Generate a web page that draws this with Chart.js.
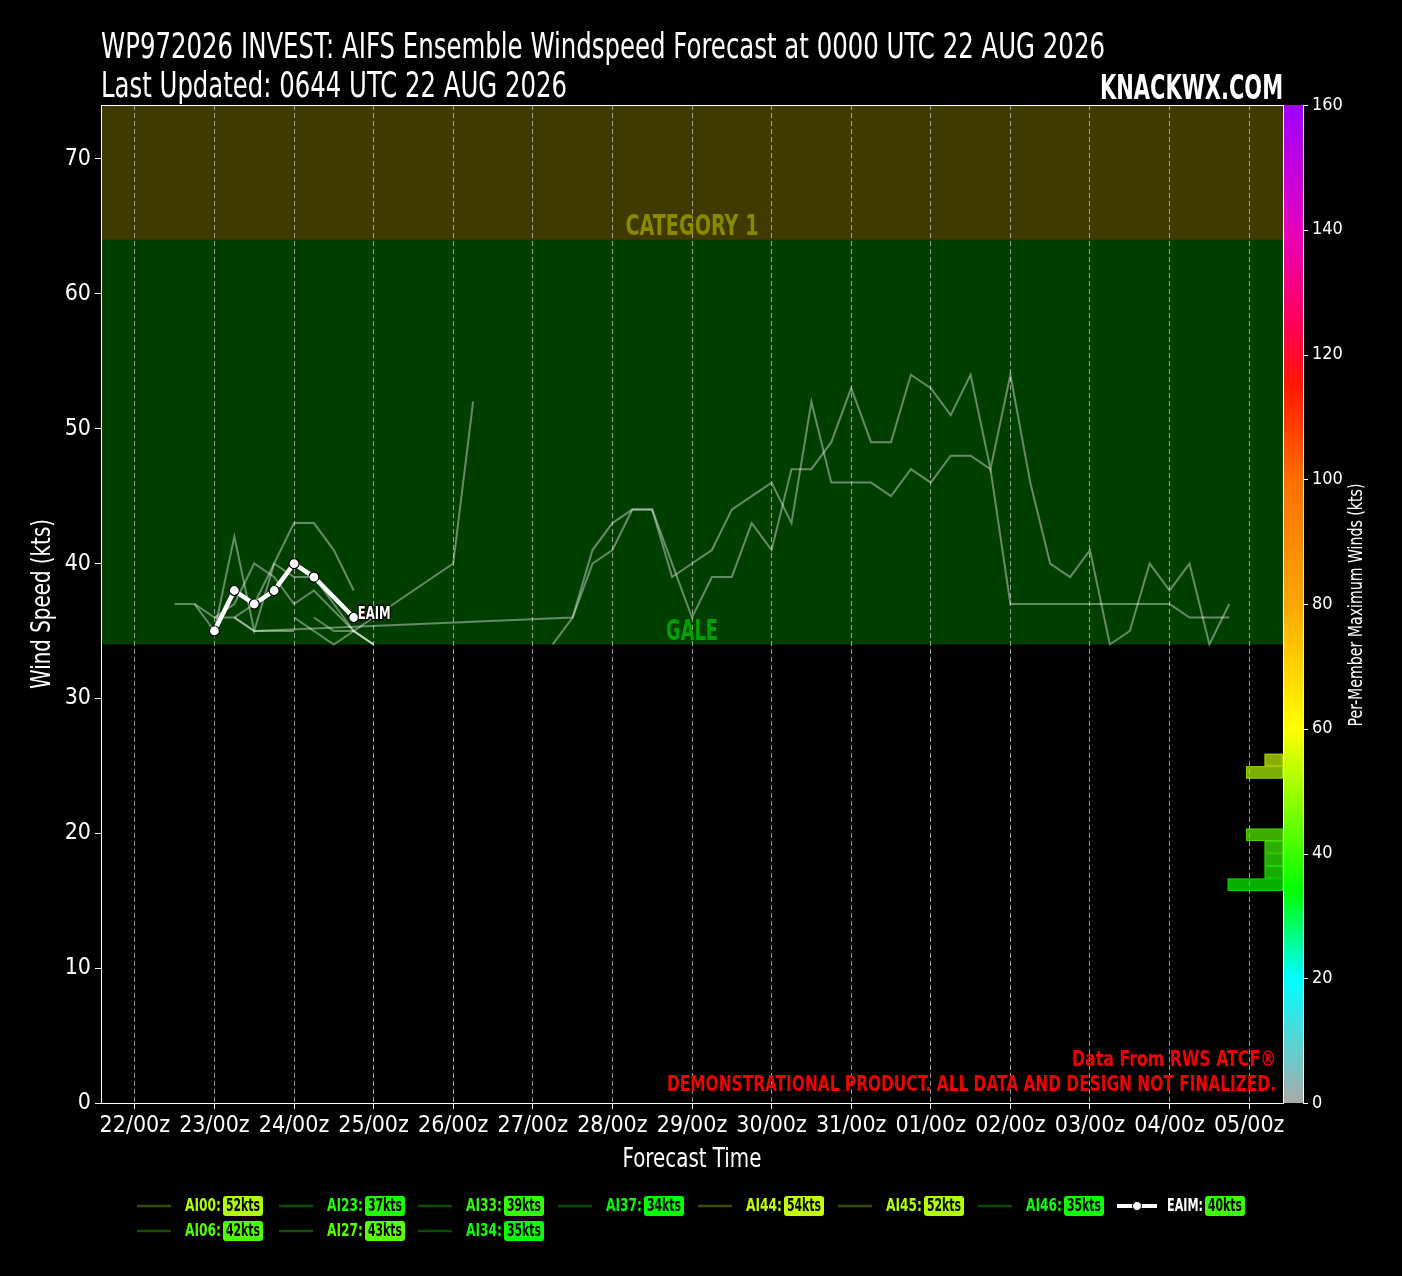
<!DOCTYPE html>
<html lang="en">
<head>
<meta charset="UTF-8">
<title>WP972026 INVEST - AIFS Ensemble Windspeed</title>
<script src="https://cdn.jsdelivr.net/npm/chart.js"></script>
<style>
  html, body { margin: 0; padding: 0; background: #000; }
  #wrap { width: 1402px; height: 1276px; }
</style>
</head>
<body>
<div id="wrap"><canvas id="windChart" width="1402" height="1276"></canvas></div>
<script>
// forecast hours are counted from 22/00z
const dayLabels = ['22/00z','23/00z','24/00z','25/00z','26/00z','27/00z','28/00z','29/00z',
                   '30/00z','31/00z','01/00z','02/00z','03/00z','04/00z','05/00z'];

// ensemble members, only the points at or above gale strength are kept
const memberNames = ['AI00','AI06','AI23','AI27','AI33','AI34','AI37','AI44','AI45','AI46'];
const memberMax   = [52, 42, 37, 43, 39, 35, 34, 54, 52, 35];

const ai00Hours = [48, 54, 60, 66, 96, 102];
const ai00Kts   = [36, 35, 34, 35, 40, 52];
const ai06Hours = [18, 24, 30, 36, 42, 48, 54, 66, 72];
const ai06Kts   = [37, 35, 42, 35, 40, 39, 39, 35, 34];
const ai23Hours = [12, 18, 24, 30, 36, 42];
const ai23Kts   = [37, 37, 36, 36, 35, 35];
const ai27Hours = [30, 36, 42, 48, 54, 60, 66];
const ai27Kts   = [36, 37, 40, 43, 43, 41, 38];
const ai33Hours = [24, 30, 36, 42, 48, 54, 66, 72];
const ai33Kts   = [36, 37, 40, 39, 37, 38, 35, 34];
const ai34Hours = [42, 48];
const ai34Kts   = [35, 35];
const ai37Hours = [60];
const ai37Kts   = [34];
const ai44Hours = [126, 132, 138, 144, 150, 156, 162, 168, 174, 180, 186, 192, 198, 204, 210, 216, 222, 228,
                   234, 240, 246, 252, 258, 264, 270, 276, 282, 288, 294, 300, 306, 312, 318, 324, 330];
const ai44Kts   = [34, 36, 40, 41, 44, 44, 40, 36, 39, 39, 43, 41, 47, 47, 49, 53, 49, 49,
                   54, 53, 51, 54, 47, 54, 46, 40, 39, 41, 34, 35, 40, 38, 40, 34, 37];
const ai45Hours = [30, 36, 132, 138, 144, 150, 156, 162, 168, 174, 180, 186, 192, 198, 204, 210, 216, 222,
                   228, 234, 240, 246, 252, 258, 264, 270, 276, 282, 288, 294, 300, 306, 312, 318, 324, 330];
const ai45Kts   = [36, 35, 36, 41, 43, 44, 44, 39, 40, 41, 44, 45, 46, 43, 52, 46, 46, 46,
                   45, 47, 46, 48, 48, 47, 37, 37, 37, 37, 37, 37, 37, 37, 37, 36, 36, 36];
const ai46Hours = [54, 60, 66, 72];
const ai46Kts   = [36, 35, 35, 34];

const eaimHours = [24, 30, 36, 42, 48, 54, 66];
const eaimKts   = [35, 38, 37, 38, 40, 39, 36];
const eaimMax   = 40;

// histogram of per-member maximum winds (2 kt bins)
const histBinLo  = [34, 36, 38, 40, 42, 52, 54];
const histCounts = [3, 1, 1, 1, 2, 2, 1];
const histBinWidth = 2;

const galeKts = 34;
const cat1Kts = 64;

// colour map of the colour bar
const cmapKts = [0, 20, 34, 60, 80, 100, 115, 125, 140, 160];
const cmapRgb = [[170,170,170],[0,255,255],[0,255,0],[255,255,0],[255,165,0],
                 [255,110,0],[255,25,0],[255,0,90],[230,0,190],[160,0,255]];

const memberHours = [ai00Hours, ai06Hours, ai23Hours, ai27Hours, ai33Hours, ai34Hours, ai37Hours, ai44Hours, ai45Hours, ai46Hours];
const memberKts   = [ai00Kts, ai06Kts, ai23Kts, ai27Kts, ai33Kts, ai34Kts, ai37Kts, ai44Kts, ai45Kts, ai46Kts];

const NARROW = "'Liberation Sans Narrow', 'DejaVu Sans Condensed', 'Liberation Sans', sans-serif";
const TICKFONT = "'DejaVu Sans Condensed', 'Liberation Sans', sans-serif";

function cmap(v, alpha) {
  let i = 0;
  while (i < cmapKts.length - 2 && v > cmapKts[i + 1]) i++;
  const t = Math.max(0, Math.min(1, (v - cmapKts[i]) / (cmapKts[i + 1] - cmapKts[i])));
  const c = cmapRgb[i].map((a, k) => Math.round(a + (cmapRgb[i + 1][k] - a) * t));
  return `rgba(${c[0]},${c[1]},${c[2]},${alpha === undefined ? 1 : alpha})`;
}

// draw text squeezed/stretched to a given width (the source uses a condensed face)
function fitText(ctx, text, x, y, w, align) {
  const m = ctx.measureText(text).width;
  ctx.save();
  ctx.translate(x, y);
  ctx.scale(w / m, 1);
  ctx.textAlign = align;
  ctx.fillText(text, 0, 0);
  ctx.restore();
}

const toPoints = (hours, kts) => hours.map((h, i) => ({ x: h, y: kts[i] }));

const datasets = memberNames.map((name, i) => ({
  type: 'line',
  label: name,
  data: toPoints(memberHours[i], memberKts[i]),
  borderColor: 'rgba(255,255,255,0.4)',
  borderWidth: 2,
  pointRadius: 0,
  tension: 0
}));
datasets.push({
  type: 'line',
  label: 'EAIM',
  data: toPoints(eaimHours, eaimKts),
  borderColor: '#ffffff',
  borderWidth: 4.5,
  pointRadius: 5,
  pointBackgroundColor: '#ffffff',
  pointBorderColor: '#000000',
  pointBorderWidth: 1.2,
  tension: 0
});

const backdrop = {
  id: 'backdrop',
  beforeDraw(chart) {
    const { ctx, chartArea: a, scales: { y } } = chart;
    ctx.save();
    ctx.fillStyle = '#000';
    ctx.fillRect(0, 0, chart.width, chart.height);
    ctx.fillStyle = '#003f00';
    ctx.fillRect(a.left, y.getPixelForValue(cat1Kts), a.width, y.getPixelForValue(galeKts) - y.getPixelForValue(cat1Kts));
    ctx.fillStyle = '#3f3b00';
    ctx.fillRect(a.left, a.top, a.width, y.getPixelForValue(cat1Kts) - a.top);
    ctx.restore();
  },
  beforeDatasetsDraw(chart) {
    const { ctx, chartArea: a, scales: { y, yc, xh } } = chart;
    const cx = (a.left + a.right) / 2;
    ctx.save();
    ctx.textBaseline = 'alphabetic';
    ctx.font = `bold 28px ${NARROW}`;
    ctx.fillStyle = '#8a8a00';
    fitText(ctx, 'CATEGORY 1', cx, y.getPixelForValue(cat1Kts) - 5, 133, 'center');
    ctx.fillStyle = '#00a000';
    fitText(ctx, 'GALE', cx, y.getPixelForValue(galeKts) - 4, 52, 'center');

    // histogram of member maxima, on the colour-bar scale
    ctx.lineWidth = 1;
    histBinLo.forEach((lo, i) => {
      const top = yc.getPixelForValue(lo + histBinWidth);
      const bot = yc.getPixelForValue(lo);
      const left = xh.getPixelForValue(histCounts[i]);
      const right = xh.getPixelForValue(0);
      ctx.fillStyle = cmap(lo + histBinWidth / 2, 0.68);
      ctx.fillRect(left, top, right - left, bot - top);
      ctx.strokeStyle = cmap(lo + histBinWidth / 2, 0.5);
      ctx.strokeRect(left + 0.5, top + 0.5, right - left - 1, bot - top - 1);
    });
    ctx.restore();
  },
  afterDatasetsDraw(chart) {
    const { ctx } = chart;
    const meta = chart.getDatasetMeta(chart.data.datasets.length - 1);
    const last = meta.data[meta.data.length - 1];
    ctx.save();
    ctx.font = `bold 18px ${NARROW}`;
    ctx.textBaseline = 'middle';
    ctx.textAlign = 'left';
    ctx.lineWidth = 3;
    ctx.strokeStyle = '#000';
    ctx.lineJoin = 'round';
    const m = ctx.measureText('EAIM').width;
    ctx.translate(last.x + 4, last.y - 3);
    ctx.scale(33 / m, 1);
    ctx.strokeText('EAIM', 0, 0);
    ctx.fillStyle = '#fff';
    ctx.fillText('EAIM', 0, 0);
    ctx.restore();
  }
};

const overlay = {
  id: 'overlay',
  afterDraw(chart) {
    const { ctx, chartArea: a, scales: { yc } } = chart;
    ctx.save();

    // frame
    ctx.strokeStyle = '#ffffff';
    ctx.lineWidth = 1;
    ctx.strokeRect(a.left + 0.5, a.top + 0.5, a.width, a.height);

    // colour bar
    const cbL = a.right + 1, cbW = 19;
    const y0 = yc.getPixelForValue(0), y1 = yc.getPixelForValue(160);
    const g = ctx.createLinearGradient(0, y0, 0, y1);
    cmapKts.forEach(v => g.addColorStop(v / 160, cmap(v)));
    ctx.fillStyle = g;
    ctx.fillRect(cbL, y1, cbW, y0 - y1);
    ctx.strokeStyle = '#ffffff';
    ctx.beginPath();
    ctx.moveTo(cbL + cbW + 0.5, y1);
    ctx.lineTo(cbL + cbW + 0.5, y0);
    ctx.stroke();
    yc.ticks.forEach(t => {
      const py = Math.round(yc.getPixelForValue(t.value)) + 0.5;
      ctx.beginPath();
      ctx.moveTo(cbL + cbW, py);
      ctx.lineTo(cbL + cbW + 5, py);
      ctx.stroke();
    });

    // titles
    ctx.fillStyle = '#ffffff';
    ctx.textBaseline = 'alphabetic';
    ctx.font = `36px ${NARROW}`;
    fitText(ctx, 'WP972026 INVEST: AIFS Ensemble Windspeed Forecast at 0000 UTC 22 AUG 2026', a.left, 58, 1004, 'left');
    fitText(ctx, 'Last Updated: 0644 UTC 22 AUG 2026', a.left, 97, 466, 'left');
    ctx.font = `bold 34px ${NARROW}`;
    fitText(ctx, 'KNACKWX.COM', a.right, 99, 183, 'right');

    // axis titles
    ctx.font = `26px ${NARROW}`;
    fitText(ctx, 'Forecast Time', (a.left + a.right) / 2, 1167, 139, 'center');
    ctx.save();
    ctx.translate(50, (a.top + a.bottom) / 2);
    ctx.rotate(-Math.PI / 2);
    fitText(ctx, 'Wind Speed (kts)', 0, 0, 170, 'center');
    ctx.restore();
    ctx.save();
    ctx.font = `19px ${NARROW}`;
    ctx.translate(1362, 605);
    ctx.rotate(-Math.PI / 2);
    fitText(ctx, 'Per-Member Maximum Winds (kts)', 0, 0, 243, 'center');
    ctx.restore();

    // disclaimers
    ctx.fillStyle = '#f00000';
    ctx.font = `bold 21px ${NARROW}`;
    fitText(ctx, 'Data From RWS ATCF\u00ae', a.right - 7, 1066, 204, 'right');
    fitText(ctx, 'DEMONSTRATIONAL PRODUCT. ALL DATA AND DESIGN NOT FINALIZED.', a.right - 7, 1091, 609, 'right');

    // legend
    const colX = [137, 279, 418, 558, 698, 838, 978, 1119];
    const rowY = [1206, 1231];
    const entries = memberNames.map((n, i) => ({ name: n, max: memberMax[i] }));
    entries.push({ name: 'EAIM', max: eaimMax });
    entries.forEach((e, i) => {
      const col = i < 6 ? Math.floor(i / 2) : i - 3;
      const row = i < 6 ? i % 2 : 0;
      const x = colX[col], y = rowY[row];
      if (e.name === 'EAIM') {
        ctx.strokeStyle = '#fff';
        ctx.lineWidth = 4;
        ctx.beginPath(); ctx.moveTo(x - 2, y); ctx.lineTo(x + 38, y); ctx.stroke();
        ctx.fillStyle = '#fff';
        ctx.strokeStyle = '#000';
        ctx.lineWidth = 1;
        ctx.beginPath(); ctx.arc(x + 18, y, 4.5, 0, Math.PI * 2); ctx.fill(); ctx.stroke();
      } else {
        ctx.strokeStyle = cmap(e.max, 0.3);
        ctx.lineWidth = 2.5;
        ctx.beginPath(); ctx.moveTo(x, y); ctx.lineTo(x + 34, y); ctx.stroke();
      }
      ctx.textBaseline = 'middle';
      ctx.font = `bold 17px ${NARROW}`;
      ctx.fillStyle = e.name === 'EAIM' ? '#ffffff' : cmap(e.max);
      fitText(ctx, e.name + ':', x + 48, y + 1, 36, 'left');
      const bx = x + 86;
      ctx.fillStyle = cmap(e.max);
      ctx.beginPath();
      ctx.roundRect(bx, y - 10, 40, 20, 3);
      ctx.fill();
      ctx.fillStyle = '#000';
      fitText(ctx, e.max + 'kts', bx + 20, y + 1, 34, 'center');
    });
    ctx.restore();
  }
};

new Chart(document.getElementById('windChart'), {
  data: { datasets },
  options: {
    responsive: false,
    animation: false,
    layout: { padding: { top: 105, bottom: 93, left: 0, right: 0 } },
    plugins: { legend: { display: false }, tooltip: { enabled: false } },
    scales: {
      x: {
        type: 'linear',
        position: 'bottom',
        min: -10.2,
        max: 346.2,
        afterBuildTicks: s => { s.ticks = dayLabels.map((_, i) => ({ value: i * 24 })); },
        afterFit: s => { s.height = 80; },
        ticks: {
          callback: v => dayLabels[Math.round(v / 24)],
          color: '#ffffff',
          font: { family: TICKFONT, size: 23 },
          autoSkip: false,
          maxRotation: 0,
          padding: 3
        },
        grid: { color: 'rgba(200,200,200,0.75)', lineWidth: 1, tickColor: '#ffffff', tickLength: 6 },
        border: { display: false, dash: [5, 3] }
      },
      y: {
        type: 'linear',
        position: 'left',
        min: 0,
        max: 74,
        afterFit: s => { s.width = 101; },
        ticks: {
          stepSize: 10,
          includeBounds: false,
          color: '#ffffff',
          font: { family: TICKFONT, size: 23 },
          padding: 4
        },
        grid: { drawOnChartArea: false, tickColor: '#ffffff', tickLength: 6 },
        border: { display: false }
      },
      yc: {
        type: 'linear',
        position: 'right',
        offset: false,
        min: 0,
        max: 160,
        afterFit: s => { s.width = 119; },
        ticks: {
          stepSize: 20,
          color: '#ffffff',
          font: { family: TICKFONT, size: 18 },
          padding: 29
        },
        grid: { display: false, drawTicks: false },
        border: { display: false }
      },
      xh: {
        type: 'linear',
        display: false,
        reverse: true,
        min: 0,
        max: 64
      }
    }
  },
  plugins: [backdrop, overlay]
});
</script>
</body>
</html>
